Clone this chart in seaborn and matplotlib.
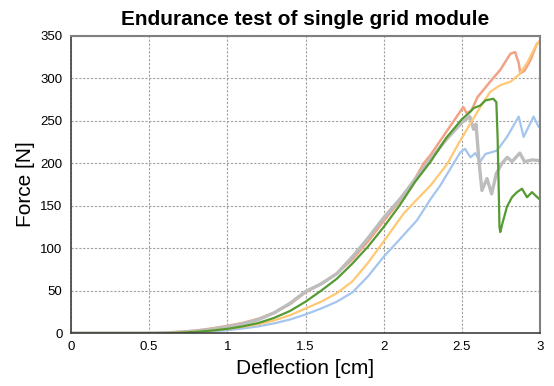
import numpy as np
import pandas as pd
import seaborn as sns
import matplotlib
matplotlib.use("Agg")
import matplotlib.pyplot as plt
from matplotlib.ticker import FormatStrFormatter

# deflection [cm] / force [N], one pair of lists per sample
blue_x = [0, 0.6, 0.7, 0.8, 0.9, 1.0, 1.1, 1.2, 1.3, 1.4, 1.5, 1.6, 1.7, 1.8, 1.9, 2.0, 2.1,
          2.213, 2.3, 2.362, 2.447, 2.49, 2.52, 2.554, 2.585, 2.617, 2.65, 2.69, 2.724, 2.788, 2.863,
          2.894, 2.926, 2.958, 2.99, 3.0]
blue_y = [0, 0, 0.3, 1, 2, 3.5, 5.5, 8, 11.5, 16, 22, 29, 37, 48, 67, 90, 110,
          133, 158, 174, 200, 213, 217, 207, 212, 202, 211, 213, 215, 231, 255,
          231, 243, 255, 243, 243]

salmon_x = [0, 0.5, 0.6, 0.7, 0.8, 0.9, 1.0, 1.1, 1.2, 1.3, 1.4, 1.5, 1.6, 1.7, 1.8, 1.9, 2.0, 2.1,
            2.2, 2.256, 2.3, 2.4, 2.5, 2.51, 2.53, 2.56, 2.6, 2.68, 2.745, 2.81, 2.84, 2.863, 2.873,
            2.9, 2.937, 2.98, 3.0]
salmon_y = [0, 0, 0.5, 1.5, 3, 5.5, 8.5, 12, 17, 24, 34, 48, 58, 70, 87, 108, 132, 155,
            182, 200, 210, 237, 264, 266, 259, 262, 278, 296, 310, 329, 331, 318, 306,
            309, 321, 341, 343]

gray_x = [0, 0.5, 0.6, 0.7, 0.8, 0.9, 1.0, 1.1, 1.2, 1.3, 1.4, 1.5, 1.6, 1.7, 1.8, 1.9, 2.0, 2.1,
          2.2, 2.3, 2.4, 2.5, 2.55, 2.575, 2.59, 2.61, 2.628, 2.66, 2.69, 2.72, 2.756, 2.79, 2.82,
          2.87, 2.9, 2.95, 3.0]
gray_y = [0, 0, 0.3, 1, 2.5, 4.5, 7.5, 11, 16, 24, 35, 49, 58, 70, 90, 112, 136, 157,
          181, 205, 228, 248, 255, 240, 246, 200, 168, 182, 164, 188, 200, 207, 202,
          212, 202, 204, 203]

yellow_x = [0, 0.6, 0.7, 0.8, 0.9, 1.0, 1.1, 1.2, 1.3, 1.4, 1.5, 1.6, 1.7, 1.8, 1.9, 2.0,
            2.128, 2.2, 2.3, 2.405, 2.49, 2.554, 2.617, 2.68, 2.745, 2.81, 2.863, 2.916, 2.968, 3.0]
yellow_y = [0, 0, 0.5, 1.5, 3, 5, 7.5, 10.5, 15, 21, 29, 37, 47, 61, 83, 108,
            141, 155, 174, 199, 227, 247, 266, 284, 292, 296, 304, 318, 337, 345]

green_x = [0, 0.6, 0.7, 0.8, 0.9, 1.0, 1.1, 1.2, 1.3, 1.4, 1.5, 1.6, 1.7, 1.8, 1.9, 2.0,
           2.1, 2.2, 2.3, 2.4, 2.5, 2.55, 2.575, 2.617, 2.65, 2.70, 2.72, 2.728, 2.735, 2.74,
           2.745, 2.76, 2.788, 2.82, 2.852, 2.884, 2.916, 2.948, 2.97, 3.0]
green_y = [0, 0, 0.5, 1.5, 3, 5, 8, 12, 18, 26, 37, 50, 64, 82, 102, 125,
           150, 178, 202, 230, 252, 260, 265, 268, 274, 276, 272, 230, 170, 125,
           119, 130, 149, 160, 166, 170, 160, 166, 162, 157]

series = [
    (blue_x, blue_y, "#A4C6EE", 1.6),
    (salmon_x, salmon_y, "#F2A386", 1.8),
    (gray_x, gray_y, "#BDBDBD", 2.4),
    (yellow_x, yellow_y, "#FFC874", 1.6),
    (green_x, green_y, "#559A32", 1.6),
]

sns.set_style("white")
plt.rcParams['font.family'] = ['Liberation Sans', 'DejaVu Sans']

fig = plt.figure(figsize=(5.54, 3.86), dpi=100)
ax = fig.add_axes([0.128, 0.137, 0.847, 0.770])

for xs, ys, col, lw in series:
    sns.lineplot(x=xs, y=ys, color=col, linewidth=lw, sort=False, estimator=None, ax=ax)

ax.set_xlim(0, 3)
ax.set_ylim(0, 350)
ax.set_xticks([0, 0.5, 1, 1.5, 2, 2.5, 3])
ax.set_yticks(range(0, 351, 50))
ax.xaxis.set_major_formatter(FormatStrFormatter('%g'))
ax.grid(True, linestyle=(0, (2, 1.5)), color="#a0a0a0", linewidth=0.8)
ax.tick_params(labelsize=9.5, length=0, pad=6, labelcolor='black')

for side in ['left', 'bottom']:
    ax.spines[side].set_color("#404040")
    ax.spines[side].set_linewidth(1.2)
for side in ['top', 'right']:
    ax.spines[side].set_color("#808080")
    ax.spines[side].set_linewidth(1.5)

ax.set_xlabel('Deflection [cm]', fontsize=15, labelpad=4, color='black')
ax.set_ylabel('Force [N]', fontsize=15, labelpad=4, color='black')
ax.set_title('Endurance test of single grid module', fontsize=15, fontweight='bold', pad=8,
             color='black')

plt.savefig('out.png', dpi=100)
